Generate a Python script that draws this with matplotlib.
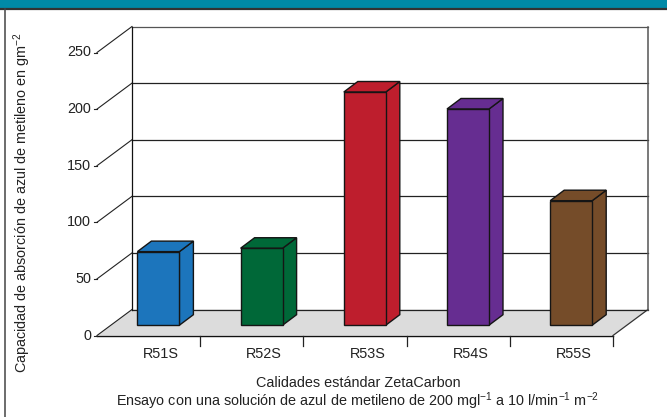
import matplotlib
matplotlib.use("Agg")
import matplotlib.pyplot as plt
from matplotlib.patches import Polygon, Rectangle

plt.rcParams['font.family'] = ['Liberation Sans', 'DejaVu Sans']
plt.rcParams['mathtext.fontset'] = 'custom'
plt.rcParams['mathtext.rm'] = 'Liberation Sans'

# ---- data ----
categories = ["R51S", "R52S", "R53S", "R54S", "R55S"]
values = [65, 68, 206, 191, 110]
colors = ["#1C75BC", "#006838", "#BE1E2D", "#662D91", "#754C29"]
yticks = [0, 50, 100, 150, 200, 250]
ylabel = "Capacidad de absorción de azul de metileno en gm$^{\\mathregular{-2}}$"
xlabel1 = "Calidades estándar ZetaCarbon"
xlabel2 = ("Ensayo con una solución de azul de metileno de 200 mgl$^{\\mathregular{-1}}$"
           " a 10 l/min$^{\\mathregular{-1}}$ m$^{\\mathregular{-2}}$")

# ---- layout (pixels) ----
W, H = 667, 417
PX_L, PX_R = 97.0, 613.0          # front category axis ends
PY_0, PY_TOP = 335.5, 52.5        # y pixel of value 0 and 250 (from top)
YMAX = 250.0
catpx = (PX_R - PX_L) / len(categories)
valpx = (PY_0 - PY_TOP) / YMAX

fig = plt.figure(figsize=(W / 100, H / 100), dpi=100)
ax = fig.add_axes([0, 0, 1, 1])
ax.set_xlim(-0.5 - PX_L / catpx, -0.5 + (W - PX_L) / catpx)
ax.set_ylim(-(H - PY_0) / valpx, PY_0 / valpx)
ax.axis('off')

DX = 35 / catpx      # depth offset in category units
DY = 26 / valpx      # depth offset in value units
x0, x1 = -0.5, len(categories) - 0.5

# header band
fig.patches.append(Rectangle((0, 1 - 8 / H), 1, 8 / H, transform=fig.transFigure,
                             facecolor="#008AA7", edgecolor="none", zorder=0))
fig.lines.append(plt.Line2D([0, 1], [1 - 8.5 / H, 1 - 8.5 / H], transform=fig.transFigure,
                            color="#333333", lw=1.6))
fig.lines.append(plt.Line2D([4.5 / W, 4.5 / W], [0, 1 - 8.5 / H], transform=fig.transFigure,
                            color="#444444", lw=1.1))

# floor
floor = Polygon([(x0, 0), (x1, 0), (x1 + DX, DY), (x0 + DX, DY)], closed=True,
                facecolor="#DCDCDC", edgecolor="none", zorder=1)
ax.add_patch(floor)
ax.plot([x0, x1], [0, 0], color="#111111", lw=1.0, zorder=2)
ax.plot([x1, x1 + DX], [0, DY], color="#333333", lw=0.9, zorder=2)

# back wall grid and left wall diagonals
for v in yticks:
    gc = "#555555" if v == YMAX else "#222222"
    ax.plot([x0 + DX, x1 + DX], [v + DY, v + DY], color=gc, lw=0.9, zorder=2)
    ax.plot([x0, x0 + DX], [v, v + DY], color="#222222", lw=0.8, zorder=2)
    ax.plot([x0 - 3 / catpx, x0], [v, v], color="#222222", lw=0.8, zorder=2)
    ax.text(x0 - 6 / catpx, v, str(v), ha='right', va='center', fontsize=10.4, color="#222222")
ax.plot([x0 + DX, x0 + DX], [DY, YMAX + DY], color="#111111", lw=0.9, zorder=2)
ax.plot([x1 + DX, x1 + DX], [DY, YMAX + DY], color="#555555", lw=1.1, zorder=2)

# category ticks
for i in range(len(categories)):
    xt = i + 0.5
    ax.plot([xt, xt], [0, -10 / valpx], color="#222222", lw=0.9, zorder=2)

# bars
left_off = -11.2 / catpx
bw = 42 / catpx
sdx = 14 / catpx
sdy = 10.5 / valpx
base = 10.3 / valpx
for i, (lab, val, col) in enumerate(zip(categories, values, colors)):
    xl = i + left_off
    xr = xl + bw
    yb = base
    yt = base + val
    front = Polygon([(xl, yb), (xr, yb), (xr, yt), (xl, yt)], closed=True)
    side = Polygon([(xr, yb), (xr + sdx, yb + sdy), (xr + sdx, yt + sdy), (xr, yt)], closed=True)
    top = Polygon([(xl, yt), (xr, yt), (xr + sdx, yt + sdy), (xl + sdx, yt + sdy)], closed=True)
    for p in (side, top, front):
        p.set_facecolor(col)
        p.set_edgecolor("#151515")
        p.set_linewidth(1.0)
        p.set_joinstyle('miter')
        p.set_zorder(5)
        ax.add_patch(p)
    ax.text(i + 0.12, -19 / valpx, lab, ha='center', va='center', fontsize=10.4, color="#222222")

# axis titles
fig.text(22 / W, 1 - 203 / H, ylabel, rotation=90, ha='center', va='center',
         fontsize=10.4, color="#222222")
fig.text(358 / W, 1 - 383 / H, xlabel1, ha='center', va='center', fontsize=10.4, color="#222222")
fig.text(358 / W, 1 - 401 / H, xlabel2, ha='center', va='center', fontsize=10.4, color="#222222")

fig.savefig("out.png", dpi=100)
